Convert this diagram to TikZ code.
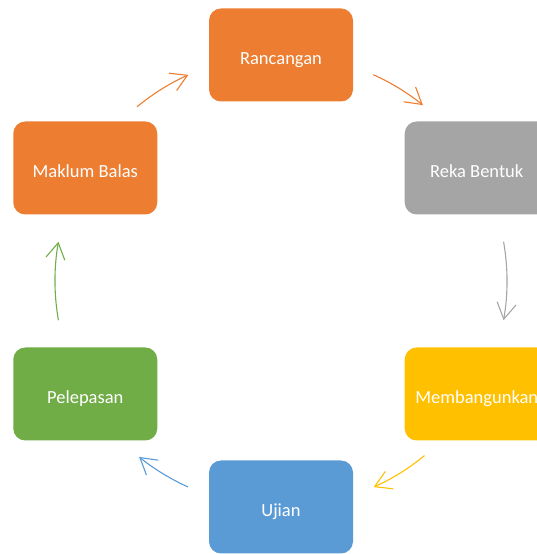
\documentclass[tikz,border=0pt]{standalone}
\usepackage{fontspec}
\setmainfont{Carlito}
\usetikzlibrary{arrows.meta}
\definecolor{jingga}{HTML}{ED7D31}
\definecolor{kelabu}{HTML}{A5A5A5}
\definecolor{kuning}{HTML}{FFC000}
\definecolor{biru}{HTML}{5B9BD5}
\definecolor{hijau}{HTML}{70AD47}

\begin{document}
\begin{tikzpicture}[x=1pt,y=1pt]
\tikzstyle{stage}=[rectangle, rounded corners=12pt, minimum width=144pt, minimum height=93pt, text=white, text height=20.5pt, text depth=1pt, font=\fontsize{18.5}{22}\selectfont]
\tikzstyle{flow}=[line width=1.1pt, -{Straight Barb[length=16pt,width=19pt]}]

 \useasboundingbox (0,0) rectangle (537,554);
 \clip (0,0) rectangle (537,554);
 \coordinate (pusat) at (281,273);

 % the six stages round the circle
 \node[stage, fill=jingga] (rancangan) at ([shift={(90:226)}]pusat) {Rancangan};
 \node[stage, fill=kelabu] (rekabentuk) at ([shift={(30:226)}]pusat) {Reka Bentuk};
 \node[stage, fill=kuning] (membangunkan) at ([shift={(-30:226)}]pusat) {Membangunkan};
 \node[stage, fill=biru] (ujian) at ([shift={(-90:226)}]pusat) {Ujian};
 \node[stage, fill=hijau] (pelepasan) at ([shift={(-150:226)}]pusat) {Pelepasan};
 \node[stage, fill=jingga] (maklumbalas) at ([shift={(150:226)}]pusat) {Maklum Balas};

 % arcs between the stages
 \foreach \i/\mula/\sudut/\warna in {1/129.6/-15.4/jingga, 2/65.9/-14.8/jingga, 3/10/-20/kelabu,
   4/-50.6/-15.2/kuning, 5/-114.3/-14.6/biru, 6/190/-20/hijau}
 {
  \coordinate (ekor\i) at ([shift={(\mula:226)}]pusat);
  \draw[flow, \warna] (ekor\i) arc[start angle=\mula, delta angle=\sudut, radius=226];
 }
\end{tikzpicture}
\end{document}
